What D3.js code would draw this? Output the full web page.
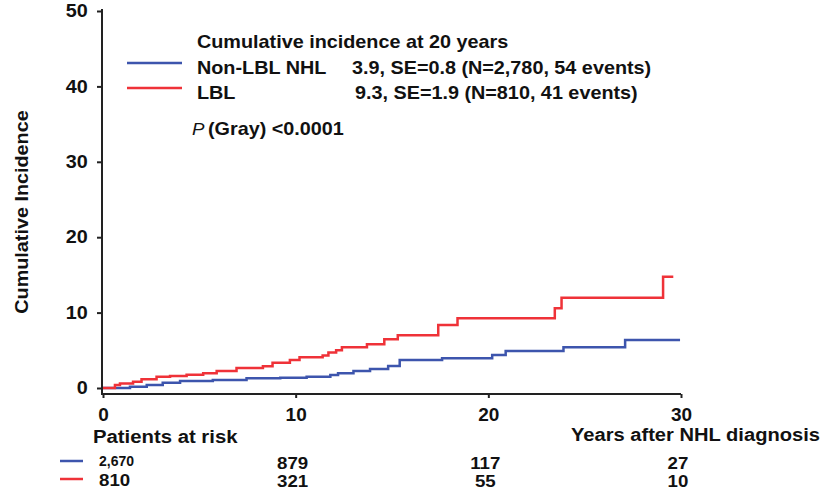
<!DOCTYPE html>
<html>
<head>
<meta charset="utf-8">
<script src="https://cdn.jsdelivr.net/npm/d3@7"></script>
<style>
  body { margin: 0; background: #fff; }
  svg text { font-family: "Liberation Sans", Arial, sans-serif; fill: #111; }
</style>
</head>
<body>
<div id="chart"></div>
<script>
// Data
var lblTimes = [0, 0.62, 0.88, 1.56, 2.0, 2.78, 3.48, 4.34, 5.2, 5.9, 6.93, 8.3, 8.8, 9.7, 10.2, 11.4, 11.7, 12.1, 12.4, 13.7, 14.6, 15.3, 17.4, 18.4, 23.45, 23.8, 29.07, 29.6];
var lblValues = [0, 0.4, 0.6, 0.84, 1.15, 1.5, 1.6, 1.77, 1.95, 2.25, 2.65, 2.9, 3.36, 3.7, 4.07, 4.3, 4.7, 5.0, 5.4, 5.8, 6.45, 7.0, 8.36, 9.24, 10.57, 11.98, 14.76, 14.76];

var nonLblTimes = [0, 1.4, 2.27, 3.1, 4.0, 5.7, 7.45, 9.2, 10.57, 11.8, 12.2, 13.0, 13.86, 14.8, 15.4, 17.6, 20.2, 20.9, 23.9, 27.1, 29.95];
var nonLblValues = [0, 0.18, 0.4, 0.7, 0.93, 1.06, 1.28, 1.37, 1.5, 1.72, 1.95, 2.25, 2.52, 2.92, 3.71, 3.93, 4.37, 4.9, 5.4, 6.37, 6.37];

var xTicks = [0, 10, 20, 30];
var yTicks = [0, 10, 20, 30, 40, 50];

var riskYears = [0, 10, 20, 30];
var riskNonLbl = [2670, 879, 117, 27];
var riskLbl = [810, 321, 55, 10];

var legendNames = ["Non-LBL NHL", "LBL"];
var legendStats = ["3.9, SE=0.8 (N=2,780, 54 events)", "9.3, SE=1.9 (N=810, 41 events)"];

var blue = "#3d55ad";
var red = "#ef3238";

// General chart parameters
var svgWidth = 821;
var svgHeight = 491;

var svg = d3.select("#chart")
    .append("svg")
    .attr("width", svgWidth)
    .attr("height", svgHeight);

var xScale = d3.scaleLinear().domain([0, 30]).range([103, 681]);
var yScale = d3.scaleLinear().domain([0, 50]).range([388, 11]);
var xAxisY = 394;

// stretched text helper (the figure's type is a bit wide)
function addText(x, y, str, size, opts) {
    opts = opts || {};
    var sx = opts.sx || 1.1;
    return svg.append("text")
        .attr("transform", `translate(${x},${y}) scale(${sx},1)`)
        .attr("font-size", size)
        .attr("font-weight", opts.weight || "bold")
        .attr("text-anchor", opts.anchor || "start")
        .text(str);
}

// Y axis
var yAxis = svg.append("g")
    .attr("transform", `translate(${xScale(0) - 1},0)`)
    .call(d3.axisLeft(yScale).tickValues(yTicks).tickSize(5).tickPadding(8));
yAxis.select(".domain").remove();
yAxis.selectAll("line").attr("stroke", "#222").attr("stroke-width", 2);
yAxis.selectAll("text")
    .attr("font-size", 18)
    .attr("font-weight", "bold")
    .attr("fill", "#111")
    .attr("transform", "scale(1.1,1)");

// X axis
var xAxis = svg.append("g")
    .attr("transform", `translate(0,${xAxisY})`)
    .call(d3.axisBottom(xScale).tickValues(xTicks).tickSize(4).tickPadding(10));
xAxis.select(".domain").remove();
xAxis.selectAll("line").attr("stroke", "#222").attr("stroke-width", 2);
xAxis.selectAll("text")
    .attr("font-size", 19)
    .attr("font-weight", "bold")
    .attr("fill", "#111");

// axis lines
svg.append("line")
    .attr("x1", xScale(0) - 1).attr("x2", xScale(0) - 1)
    .attr("y1", yScale(50) - 2).attr("y2", xAxisY + 1)
    .attr("stroke", "#222").attr("stroke-width", 2);
svg.append("line")
    .attr("x1", xScale(0) - 2).attr("x2", xScale(30))
    .attr("y1", xAxisY).attr("y2", xAxisY)
    .attr("stroke", "#222").attr("stroke-width", 2);

// Y label
svg.append("text")
    .attr("transform", "translate(28,212) rotate(-90) scale(1.1,1)")
    .attr("font-size", 18)
    .attr("font-weight", "bold")
    .attr("text-anchor", "middle")
    .text("Cumulative Incidence");

// Step curves
var line = d3.line()
    .x(d => xScale(d[0]))
    .y(d => yScale(d[1]))
    .curve(d3.curveStepAfter);

var series = [
    { times: nonLblTimes, values: nonLblValues, color: blue },
    { times: lblTimes, values: lblValues, color: red }
];

svg.selectAll("path.curve")
    .data(series)
    .enter()
    .append("path")
    .attr("class", "curve")
    .attr("fill", "none")
    .attr("stroke", d => d.color)
    .attr("stroke-width", 2.5)
    .attr("d", d => line(d.times.map((t, i) => [t, d.values[i]])));

// Legend
addText(197, 48, "Cumulative incidence at 20 years", 18);
var legendY = [63, 88];
var legendColors = [blue, red];
var statX = [352, 355];
legendNames.forEach(function (name, i) {
    svg.append("line")
        .attr("x1", 127).attr("x2", 182)
        .attr("y1", legendY[i]).attr("y2", legendY[i])
        .attr("stroke", legendColors[i]).attr("stroke-width", 2.5);
    addText(197, legendY[i] + 11, name, 18);
    addText(statX[i], legendY[i] + 11, legendStats[i], 18);
});

// P value
addText(192, 135, "P", 17, { weight: "normal" })
    .attr("font-style", "italic")
    .attr("fill", "#555");
addText(208, 135, "(Gray) <0.0001", 18);

// Bottom labels
addText(93, 443, "Patients at risk", 19, { sx: 1.07 });
addText(820, 441, "Years after NHL diagnosis", 19, { sx: 1.06, anchor: "end" });

// Risk table
svg.append("line")
    .attr("x1", 60).attr("x2", 83).attr("y1", 461).attr("y2", 461)
    .attr("stroke", blue).attr("stroke-width", 2.5);
svg.append("line")
    .attr("x1", 60).attr("x2", 83).attr("y1", 479).attr("y2", 479)
    .attr("stroke", red).attr("stroke-width", 2.5);

riskYears.forEach(function (yr, i) {
    if (i === 0) {
        addText(99, 466, d3.format(",")(riskNonLbl[i]), 14, { sx: 1.0 });
        addText(99, 486, riskLbl[i], 17, { sx: 1.1 });
    } else {
        addText(xScale(yr) - 3, 469, riskNonLbl[i], 17, { anchor: "middle" });
        addText(xScale(yr) - 3, 487, riskLbl[i], 17, { anchor: "middle" });
    }
});
</script>
</body>
</html>
